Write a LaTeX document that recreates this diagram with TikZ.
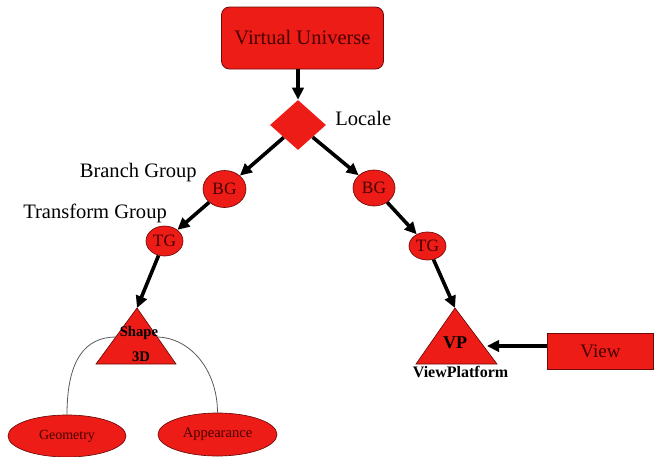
\documentclass[tikz,border=0pt]{standalone}
\usepackage{fontspec}
\setmainfont{Liberation Serif}
\usetikzlibrary{shapes.geometric,arrows.meta}
\definecolor{nodered}{RGB}{238,28,22}
\definecolor{edgered}{RGB}{110,10,10}
\definecolor{txtred}{RGB}{70,0,0}
\begin{document}
\begin{tikzpicture}[x=0.75pt,y=-0.75pt,
  ell/.style={ellipse,fill=nodered,draw=edgered,line width=0.5pt,inner sep=0pt,text=txtred},
  box/.style={rectangle,fill=nodered,draw=edgered,line width=0.6pt,inner sep=0pt,text=txtred},
  tri/.style={fill=nodered,draw=edgered,line width=0.5pt},
  arr/.style={line width=2.7pt,-{Triangle[length=9pt,width=8.5pt]}},
  lbl/.style={font=\fontsize{15.4}{18}\selectfont,text=black,inner sep=0pt},
  bold/.style={font=\bfseries\fontsize{#1}{#1}\selectfont,text=black,inner sep=0pt},
  link/.style={draw=gray!70!black,line width=0.6pt}]
\useasboundingbox (0,0) rectangle (654,457);

% top
\node[box,rounded corners=6pt,minimum width=162*0.75pt,minimum height=62*0.75pt,
      font=\fontsize{15.4}{18}\selectfont] (vu) at (302.5,38) {Virtual Universe};
\node[diamond,fill=nodered,inner sep=0pt,minimum width=56*0.75pt,minimum height=50*0.75pt] (loc) at (298,125) {};
\node[lbl,anchor=west] (loclbl) at (335,118) {Locale};

% groups
\node[ell,minimum width=43*0.75pt,minimum height=37*0.75pt,font=\fontsize{13}{15}\selectfont] (bgl) at (224.5,189) {BG};
\node[ell,minimum width=37*0.75pt,minimum height=30*0.75pt,font=\fontsize{13}{15}\selectfont] (tgl) at (164.5,241) {TG};
\node[ell,minimum width=42*0.75pt,minimum height=36*0.75pt,font=\fontsize{13}{15}\selectfont] (bgr) at (374,188) {BG};
\node[ell,minimum width=37*0.75pt,minimum height=28*0.75pt,font=\fontsize{13}{15}\selectfont] (tgr) at (427.5,246) {TG};
\node[lbl,anchor=east] (bglbl) at (197,173) {Branch Group};
\node[lbl,anchor=west] (tglbl) at (23,213) {Transform Group};

% leaves
\node[ell,minimum width=118*0.75pt,minimum height=42*0.75pt,font=\fontsize{10.5}{12}\selectfont] (geo) at (67,436) {Geometry};
\node[ell,minimum width=119*0.75pt,minimum height=43*0.75pt,font=\fontsize{10.9}{12}\selectfont] (app) at (217.5,434.5) {Appearance};

% Shape3D triangle
\coordinate (sapex) at (137,308);
\coordinate (sl) at (116,337);
\coordinate (sr) at (156,337);
\draw[link] (geo.north) .. controls (67,360) and (85,337) .. (sl);
\draw[link] (sr) .. controls (190,337) and (217.5,370) .. (app.north);
\draw[tri] (sapex) -- (176,364) -- (96,364) -- cycle;
\node[bold=11] (shp) at (139,333) {Shape};
\node[bold=11] (s3d) at (141,357) {3D};

% ViewPlatform triangle
\coordinate (vpapex) at (455,308);
\coordinate (vpr) at (487,346);
\draw[tri] (vpapex) -- (497,364) -- (416,364) -- cycle;
\node[bold=13.5] (vp) at (455,343) {VP};
\node[bold=12] (vplbl) at (460.5,372) {ViewPlatform};

% View
\node[box,minimum width=106*0.75pt,minimum height=36*0.75pt,font=\fontsize{14.3}{16}\selectfont] (view) at (600.5,351) {View};

% arrows
\draw[arr] (loc.north |- vu.south) -- (loc.north);
\draw[arr] (loc) -- (bgl);
\draw[arr] (loc) -- (bgr);
\draw[arr] (bgl) -- (tgl);
\draw[arr] (bgr) -- (tgr);
\draw[arr] (tgl) -- (sapex);
\draw[arr] (tgr) -- (vpapex);
\draw[arr] (view.west |- vpr) -- (vpr);
\end{tikzpicture}
\end{document}
